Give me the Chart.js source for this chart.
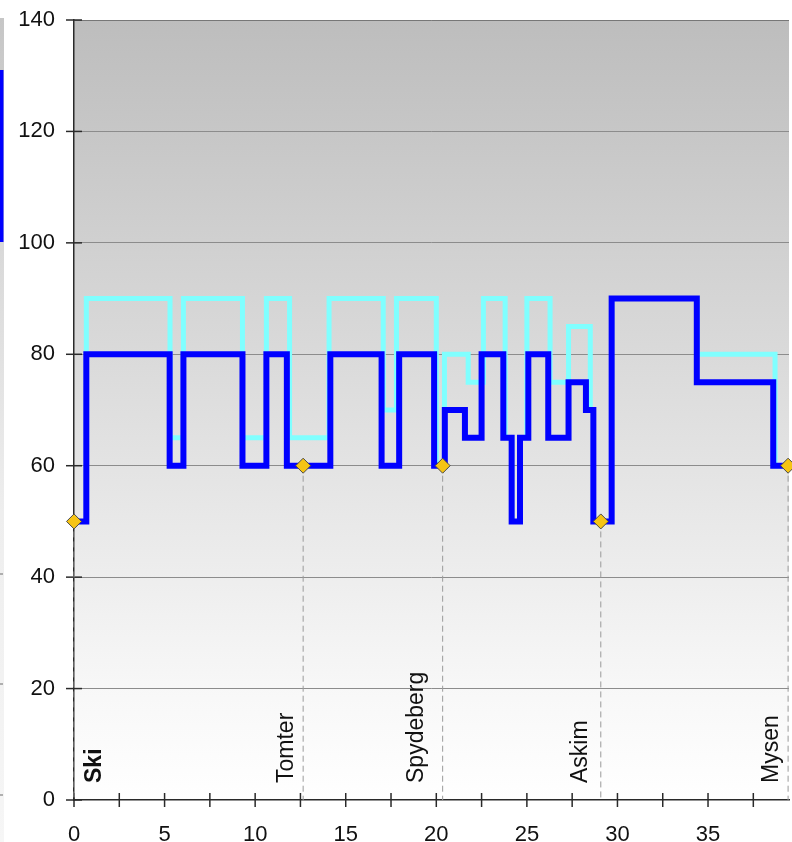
<!DOCTYPE html>
<html><head><meta charset="utf-8">
<script src="https://cdn.jsdelivr.net/npm/chart.js@4.4.1/dist/chart.umd.min.js"></script>
<style>html,body{margin:0;padding:0;background:#fff;overflow:hidden;}#wrap{width:792px;height:842px;position:relative;overflow:hidden;}canvas{display:block;}</style>
</head><body><div id="wrap"><canvas id="c"></canvas></div>
<script>
// ---- data ----
const blueKm    = [0, 0.68, 5.28, 6.04, 9.3, 10.62, 11.75, 14.15, 16.98, 17.95, 19.88, 20.47, 21.58, 22.5, 23.7, 24.16, 24.62, 25.08, 26.18, 27.3, 28.26, 28.67, 29.68, 34.38, 38.6, 39.42];
const blueSpeed = [50, 80, 60, 80, 60, 80, 60, 80, 60, 80, 60, 70, 65, 80, 65, 50, 65, 80, 65, 75, 70, 50, 90, 75, 60, 60];
const cyanKm    = [0, 0.68, 5.3, 6.04, 9.3, 10.62, 11.9, 14.08, 17.07, 17.8, 20.0, 20.45, 21.76, 22.6, 23.8, 24.16, 24.62, 25.0, 26.28, 27.3, 28.5, 28.67, 29.68, 34.4, 38.7, 39.42];
const cyanSpeed = [50, 90, 65, 90, 65, 90, 65, 90, 70, 90, 60, 80, 75, 90, 65, 50, 65, 90, 75, 85, 70, 50, 90, 80, 60, 60];
const stationNames = ['Ski', 'Tomter', 'Spydeberg', 'Askim', 'Mysen'];
const stationKm    = [0, 12.65, 20.35, 29.08, 39.42];
const stationSpeed = [50, 60, 60, 50, 60];
const xMajorTicks = [0, 5, 10, 15, 20, 25, 30, 35];
const yTickValues = [0, 20, 40, 60, 80, 100, 120, 140];

// ---- styles (not data) ----
const FONT = "Arial, 'Liberation Sans', sans-serif";
const labelDx = [27, -10, -20, -14, -10];
const labelBold = [true, false, false, false, false];

function pts(xs, ys){ return xs.map((x,i)=>({x:x, y:ys[i]})); }

const datasets = [];
datasets.push({
  label: 'stations', data: pts(stationKm, stationSpeed), showLine: false,
  pointStyle: 'rectRot', pointRadius: 7.5, pointHoverRadius: 7.5,
  pointBackgroundColor: '#f6c414', pointBorderColor: '#4a4a4a', pointBorderWidth: 1,
  order: 0, clip: false
});
datasets.push({
  label: 'blue', data: pts(blueKm, blueSpeed), stepped: 'before',
  borderColor: '#0000ff', borderWidth: 6, pointRadius: 0, fill: false,
  borderJoinStyle: 'miter', borderCapStyle: 'butt', order: 1
});
datasets.push({
  label: 'cyan', data: pts(cyanKm, cyanSpeed), stepped: 'before',
  borderColor: '#80ffff', borderWidth: 5, pointRadius: 0, fill: false,
  borderJoinStyle: 'miter', borderCapStyle: 'butt', order: 2
});
stationKm.forEach((km, i) => {
  datasets.push({
    label: 'line' + i, data: [{x: km, y: stationSpeed[i]}, {x: km, y: 0}],
    borderColor: '#9a9a9a', borderWidth: 1, borderDash: [6, 4], pointRadius: 0,
    order: 3, clip: false
  });
});

const bgPlugin = {
  id: 'bg',
  beforeDraw(chart){
    const {ctx, chartArea: a} = chart;
    ctx.save();
    const g = ctx.createLinearGradient(0, a.top, 0, a.bottom);
    g.addColorStop(0, '#bdbdbd');
    g.addColorStop(0.55, '#e2e2e2');
    g.addColorStop(0.85, '#f7f7f7');
    g.addColorStop(1, '#ffffff');
    ctx.fillStyle = g;
    ctx.fillRect(a.left, a.top, a.right - a.left, a.bottom - a.top);
    // left strip (edge of neighbouring panel)
    const g2 = ctx.createLinearGradient(0, 18, 0, 842);
    g2.addColorStop(0, '#c6c6c6');
    g2.addColorStop(0.6, '#eeeeee');
    g2.addColorStop(1, '#f6f6f6');
    ctx.fillStyle = g2;
    ctx.fillRect(0, 18, 4, 824);
    ctx.fillStyle = '#0000ff';
    ctx.fillRect(0, 70, 3.5, 172);
    ctx.strokeStyle = '#999';
    ctx.lineWidth = 1.5;
    [574, 684, 795].forEach(y => { ctx.beginPath(); ctx.moveTo(0, y); ctx.lineTo(3, y); ctx.stroke(); });
    ctx.restore();
  },
  beforeDatasetsDraw(chart){
    const {ctx, chartArea: a, scales: {x, y}} = chart;
    ctx.save();
    ctx.strokeStyle = '#2a2a2a';
    ctx.lineWidth = 1.5;
    x.ticks.forEach(t => {
      const px = x.getPixelForValue(t.value);
      ctx.beginPath(); ctx.moveTo(px, a.bottom - 7); ctx.lineTo(px, a.bottom + 7); ctx.stroke();
    });
    y.ticks.forEach(t => {
      const py = y.getPixelForValue(t.value);
      ctx.beginPath(); ctx.moveTo(a.left - 8, py); ctx.lineTo(a.left + 8, py); ctx.stroke();
    });
    ctx.restore();
  },
  afterDatasetsDraw(chart){
    const {ctx, scales: {x, y}} = chart;
    ctx.save();
    ctx.fillStyle = '#111';
    ctx.textAlign = 'left';
    ctx.textBaseline = 'alphabetic';
    stationNames.forEach((name, i) => {
      const px = x.getPixelForValue(stationKm[i]) + labelDx[i];
      const py = y.getPixelForValue(0) - 17;
      ctx.save();
      ctx.translate(px, py);
      ctx.rotate(-Math.PI / 2);
      ctx.font = (labelBold[i] ? 'bold ' : '') + '23px ' + FONT;
      ctx.fillText(name, 0, 0);
      ctx.restore();
    });
    ctx.restore();
  }
};

new Chart(document.getElementById('c'), {
  type: 'line',
  data: { datasets },
  options: {
    responsive: true, maintainAspectRatio: false, animation: false,
    layout: { autoPadding: false, padding: { top: 20, right: 3, left: 0, bottom: 0 } },
    plugins: { legend: { display: false }, tooltip: { enabled: false } },
    scales: {
      x: {
        type: 'linear', min: 0, max: 39.47,
        afterFit(s){ s.height = 42; s.paddingLeft = 0; s.paddingRight = 0; },
        ticks: {
          stepSize: 2.5, includeBounds: false, autoSkip: false, maxRotation: 0,
          padding: 0, color: '#111', font: { family: FONT, size: 22 },
          callback: (v) => xMajorTicks.some(m => Math.abs(m - v) < 1e-6) ? String(v) : ''
        },
        grid: { display: false, drawTicks: true, tickLength: 22, tickColor: 'rgba(0,0,0,0)' },
        border: { display: true, color: '#2a2a2a', width: 1.5 }
      },
      y: {
        type: 'linear', min: 0, max: 140,
        afterFit(s){ s.width = 74; s.paddingTop = 0; s.paddingBottom = 0; },
        afterBuildTicks(s){ s.ticks = yTickValues.map(v => ({value: v})); },
        ticks: { padding: 0, color: '#111', font: { family: FONT, size: 22 } },
        grid: {
          drawTicks: true, tickLength: 19, tickColor: 'rgba(0,0,0,0)', lineWidth: 1,
          color: (c) => c.tick && c.tick.value === 0 ? 'rgba(0,0,0,0)' : (c.tick && c.tick.value === 140 ? '#777' : '#8c8c8c')
        },
        border: { display: true, color: '#2a2a2a', width: 1.5 }
      }
    }
  },
  plugins: [bgPlugin]
});
</script>
</body></html>
